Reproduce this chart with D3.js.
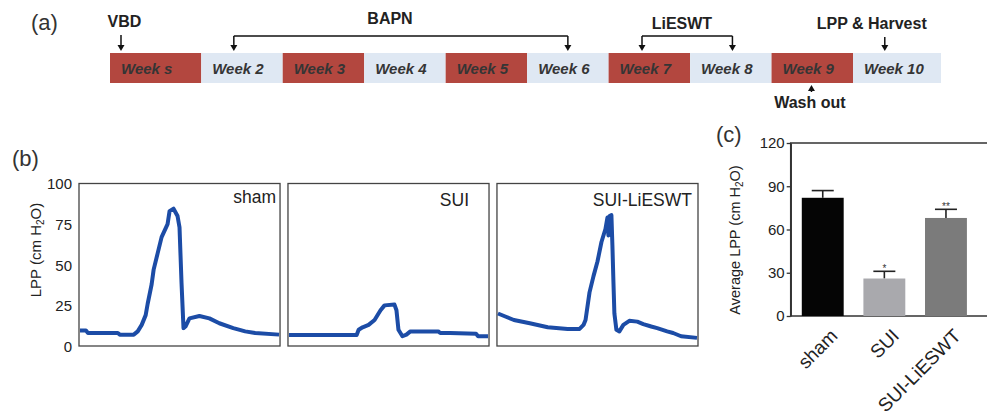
<!DOCTYPE html>
<html><head><meta charset="utf-8">
<script src="https://cdn.jsdelivr.net/npm/d3@7"></script>
<style>
body{margin:0;background:#fff}
svg{display:block}
text{font-family:"Liberation Sans",Arial,Helvetica,sans-serif}
</style>
</head><body>
<svg id="fig" width="987" height="420"></svg>
<script>
// ---------- DATA ----------
// (a) timeline
const weekLabels = ["Week s","Week 2","Week 3","Week 4","Week 5","Week 6","Week 7","Week 8","Week 9","Week 10"];
const weekSpan   = [1.12,1,1,1,1,1,1,1,1,1.08];
const weekShade  = ["dark","light","dark","light","dark","light","dark","light","dark","light"];
const eventLabels = ["VBD","BAPN","LiESWT","LPP & Harvest","Wash out"];
const eventFrom   = [0.135,1.52,6.53,9.51,8.61];   // in weeks
const eventTo     = [null,5.62,7.64,null,null];
const eventTextAt = [0.178,3.437,7.02,9.35,8.59];

// (b) LPP traces (time in % of window, LPP in cm H2O)
const groups = ["sham","SUI","SUI-LiESWT"];
const lppTicks = [0,25,50,75,100];
const shamTrace = [[0,9.5],[3,9.5],[4,8],[19,8],[20,7],[27,7],[29,9],[31,13],[33,19],[34,26],[36,38],[37,47],[39,57],[41,67],[44,75],[45,83],[47,84.5],[49,80],[50,73],[51,39],[52,11],[53,12],[55,17],[60,18.5],[65,17],[70,14],[77,11],[83,9],[88,8],[100,7]];
const suiTrace = [[0,6.8],[34,6.8],[35,10],[37,11.5],[40,13],[43,16],[46,22],[48,25],[53,25.5],[54,22],[55,10],[57,6],[59,7],[61,9],[75,9],[76,8],[81,8],[94,7.5],[95,6],[100,6]];
const lieswtTrace = [[0,20],[4,18],[8,16],[16,14],[25,11.5],[35,10.5],[41,10.5],[43,13],[44,16],[46,33],[48,43],[50,52],[52,64],[54,72],[55,79],[55.5,68],[56,80],[57,80.5],[57.5,62],[58,40],[58.5,20],[59.5,10],[61,9],[63,13],[66,15.5],[70,15],[73,13.5],[77,12],[80,11],[85,9],[88,8],[92,6],[100,5]];
const traces = [shamTrace, suiTrace, lieswtTrace];

// (c) average LPP
const avgLPP = [82,26,68];
const avgErr = [5,5,6];
const sigMarks = ["","*","**"];
const avgTicks = [0,30,60,90,120];

// ---------- DRAW ----------
const svg = d3.select("#fig");

// ===== (a) =====
svg.append("text").attr("x",31).attr("y",30).attr("font-size",22).attr("fill","#333").text("(a)");
const totalW = d3.sum(weekSpan);
const xW = d3.scaleLinear().domain([0,totalW]).range([110,941]);
const starts = [0, ...d3.cumsum(weekSpan)];
const boxTop = 53, boxH = 30;
const gA = svg.append("g");
gA.selectAll("rect.wk").data(weekLabels).join("rect")
  .attr("x",(d,i)=>xW(starts[i])).attr("y",boxTop)
  .attr("width",(d,i)=>xW(starts[i+1])-xW(starts[i])).attr("height",boxH)
  .attr("fill",(d,i)=>weekShade[i]==="dark"?"#b3473f":"#dfe8f3");
gA.selectAll("text.wk").data(weekLabels).join("text")
  .attr("x",(d,i)=>xW(starts[i])+11).attr("y",boxTop+20.5)
  .attr("font-size",15).attr("font-weight","bold").attr("font-style","italic")
  .attr("fill","#353535").text(d=>d);

function arrowDown(x, y0, tip){
  gA.append("line").attr("x1",x).attr("x2",x).attr("y1",y0).attr("y2",tip-5)
    .attr("stroke","#111").attr("stroke-width",1.5);
  gA.append("path").attr("d",`M${x-3.5},${tip-6}L${x+3.5},${tip-6}L${x},${tip}Z`).attr("fill","#111");
}
function arrowUp(x, tip, y1){
  gA.append("line").attr("x1",x).attr("x2",x).attr("y1",tip+5).attr("y2",y1)
    .attr("stroke","#111").attr("stroke-width",1.5);
  gA.append("path").attr("d",`M${x-3.5},${tip+6}L${x+3.5},${tip+6}L${x},${tip}Z`).attr("fill","#111");
}
const evBase = [27,24,28.5,28.5,108];
eventLabels.forEach((lab,i)=>{
  gA.append("text").attr("x",xW(eventTextAt[i])).attr("y",evBase[i])
    .attr("text-anchor","middle").attr("font-size",16).attr("font-weight","bold")
    .attr("fill","#222").text(lab);
  const x0 = xW(eventFrom[i]);
  if (lab==="Wash out"){ arrowUp(x0, 85, 92); return; }
  if (eventTo[i]!==null){
    const x1 = xW(eventTo[i]);
    gA.append("line").attr("x1",x0).attr("x2",x1).attr("y1",36).attr("y2",36)
      .attr("stroke","#111").attr("stroke-width",1.5);
    arrowDown(x0,36,51); arrowDown(x1,36,51);
  } else {
    arrowDown(x0, lab==="VBD"?35:37, 51);
  }
});

// ===== (b) =====
svg.append("text").attr("x",12).attr("y",166).attr("font-size",22).attr("fill","#333").text("(b)");
const pX = d3.scaleBand().domain(groups).range([79,698]).paddingInner(0.038);
const pY = d3.scaleLinear().domain([0,100]).range([346,183.5]);
const titleInset = [4,20,6];
const titleBase = [203,206,206];
groups.forEach((g,i)=>{
  const x0 = pX(g), w = pX.bandwidth();
  const tx = d3.scaleLinear().domain([0,100]).range([x0+1,x0+w-1]);
  const pg = svg.append("g");
  pg.append("rect").attr("x",x0).attr("y",pY(100)).attr("width",w).attr("height",pY(0)-pY(100))
    .attr("fill","none").attr("stroke","#444").attr("stroke-width",1.3);
  const line = d3.line().x(d=>tx(d[0])).y(d=>pY(d[1]));
  pg.append("path").datum(traces[i]).attr("d",line).attr("fill","none")
    .attr("stroke","#1c4ca6").attr("stroke-width",4).attr("stroke-linejoin","round");
  pg.append("text").attr("x",x0+w-titleInset[i]).attr("y",titleBase[i])
    .attr("text-anchor","end").attr("font-size",17.5).attr("fill","#222").text(g);
});
const axB = svg.append("g").attr("transform",`translate(${pX(groups[0])},0)`)
  .call(d3.axisLeft(pY).tickValues(lppTicks).tickSize(0).tickPadding(7));
axB.select(".domain").remove();
axB.selectAll("text").attr("font-size",15).attr("fill","#222").attr("dy","0.36em")
  .attr("font-family","Liberation Sans, Arial, sans-serif");
const ylB = svg.append("text").attr("transform","translate(41,250) rotate(-90)")
  .attr("text-anchor","middle").attr("font-size",15).attr("fill","#222");
ylB.append("tspan").text("LPP (cm H");
ylB.append("tspan").attr("dy",3).attr("font-size",10).text("2");
ylB.append("tspan").attr("dy",-3).text("O)");

// ===== (c) =====
svg.append("text").attr("x",716).attr("y",142).attr("font-size",22).attr("fill","#333").text("(c)");
const bX = d3.scaleBand().domain(groups).range([790.7,978]).paddingInner(0.32).paddingOuter(0.18);
const bY = d3.scaleLinear().domain([0,120]).range([316,143]);
const barFill = ["#050505","#a9a9ad","#7b7b7b"];
const gC = svg.append("g");
gC.append("rect").attr("x",bX.range()[0]).attr("y",bY(120)).attr("width",260).attr("height",bY(0)-bY(120))
  .attr("fill","none").attr("stroke","#333").attr("stroke-width",1.5);
gC.selectAll("g.err").data(groups).join("g").each(function(g,i){
  const cx = bX(g)+bX.bandwidth()/2;
  const top = bY(avgLPP[i]+avgErr[i]);
  const e = d3.select(this);
  e.append("line").attr("x1",cx).attr("x2",cx).attr("y1",bY(avgLPP[i])).attr("y2",top)
    .attr("stroke","#222").attr("stroke-width",1.6);
  e.append("line").attr("x1",cx-11).attr("x2",cx+11).attr("y1",top).attr("y2",top)
    .attr("stroke","#222").attr("stroke-width",1.6);
  e.append("text").attr("x",cx).attr("y",top+1).attr("text-anchor","middle")
    .attr("font-size",10).attr("fill","#333").text(sigMarks[i]);
});
gC.selectAll("rect.bar").data(groups).join("rect")
  .attr("x",d=>bX(d)).attr("width",bX.bandwidth())
  .attr("y",(d,i)=>bY(avgLPP[i])).attr("height",(d,i)=>bY(0)-bY(avgLPP[i]))
  .attr("fill",(d,i)=>barFill[i]);
const axC = svg.append("g").attr("transform",`translate(${bX.range()[0]},0)`)
  .call(d3.axisLeft(bY).tickValues(avgTicks).tickSize(4).tickPadding(2).tickSizeOuter(0));
axC.select(".domain").attr("stroke","#333").attr("stroke-width",1.5);
axC.selectAll(".tick line").attr("stroke","#333").attr("stroke-width",1.3);
axC.selectAll("text").attr("font-size",15).attr("fill","#222")
  .attr("font-family","Liberation Sans, Arial, sans-serif");
gC.selectAll("text.xl").data(groups).join("text")
  .attr("transform",d=>`translate(${bX(d)+bX.bandwidth()/2+16},337) rotate(-45)`)
  .attr("text-anchor","end").attr("font-size",19).attr("fill","#222").text(d=>d);
const ylC = svg.append("text").attr("transform","translate(740,240) rotate(-90)")
  .attr("text-anchor","middle").attr("font-size",14.5).attr("fill","#222");
ylC.append("tspan").text("Average LPP (cm H");
ylC.append("tspan").attr("dy",3).attr("font-size",10).text("2");
ylC.append("tspan").attr("dy",-3).text("O)");
</script>
</body></html>
